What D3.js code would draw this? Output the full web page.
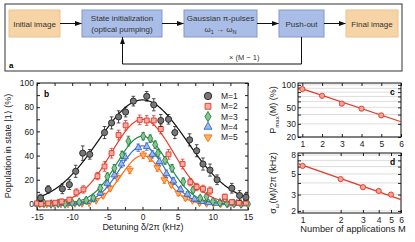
<!DOCTYPE html>
<html>
<head>
<meta charset="utf-8">
<script src="https://cdn.jsdelivr.net/npm/d3@7"></script>
<style>
  body { margin: 0; background: #fff; }
  svg { display: block; font-family: "Liberation Sans", Arial, sans-serif; }
  .tick text { font-size: 8.5px; fill: #222; }
  .domain { display: none; }
  .tick line { stroke: #222; }
</style>
</head>
<body>
<svg id="chart" width="415" height="242"></svg>
<script>
// ---- panel a: flow chart boxes ----
// each line is a list of [text, isSubscript] pieces
const boxLabels = [
    [[["Initial image", 0]]],
    [[["State initialization", 0]], [["(optical pumping)", 0]]],
    [[["Gaussian \u03c0-pulses", 0]], [["\u03c9", 0], ["1", 1], [" \u2192 \u03c9", 0], ["N", 1]]],
    [[["Push-out", 0]]],
    [[["Final image", 0]]]];
const boxKinds = ["img", "op", "op", "op", "img"];
const repeatLabel = "\u00d7 (M \u2212 1)";

// ---- panel b: population vs detuning ----
const seriesNames = ["M=1", "M=2", "M=3", "M=4", "M=5"];
const detM1 = [-14.5, -13.4, -11.4, -10.4, -9.5, -8.5, -7.5, -5.4, -4.4, -3.4, -2.4, -1.3, 0.6, 1.6, 2.6, 3.7, 4.6, 6.7, 7.7, 8.6, 9.6, 10.6, 12.7, 13.8, 14.7];
const popM1 = [5, 12, 12.5, 16, 27, 42, 41, 59, 67, 72, 76, 85, 89, 82, 69, 70, 59, 53, 44, 33, 28, 20, 13, 7, 5.5];
const errM1 = [3, 3, 4, 4, 5, 6, 4, 5, 5, 5, 4, 4, 4, 5, 5, 4, 5, 5, 5, 5, 5, 4, 4, 4, 3];
const detM2 = [-15, -14.4, -13.4, -12.4, -11.5, -10.4, -9.4, -8.4, -6.4, -5.4, -4.4, -3.4, -2.4, -0.4, 0.6, 1.6, 2.6, 3.7, 5.7, 6.8, 7.7, 8.6, 9.6, 11.7, 12.7, 13.7, 14.7];
const popM2 = [0.5, 0, 0.5, 1, 2, 3.5, 9.5, 12, 23, 31, 42, 57, 65, 69.5, 69, 69, 62, 41, 33, 18, 14, 12.5, 11, 6, 1.5, 1, 1];
const errM2 = [1, 1, 1, 1, 2, 2, 3, 3, 3, 4, 4, 4, 4, 4, 4, 4, 4, 4, 4, 3, 3, 3, 3, 2, 2, 1, 1];
const detM3 = [-15, -14, -13, -12, -11, -10, -9, -8, -7, -6, -5, -4, -2.9, -2, 0.1, 1.1, 1.8, 2.2, 3.2, 4.2, 5.8, 7.2, 8.2, 9.1, 10, 11, 12, 13, 14, 15];
const popM3 = [0, 0.5, 0, 0.5, 0, 1, 1.5, 3, 5, 13, 22.6, 29.5, 40.5, 52, 56, 54, 49, 42, 36, 29.5, 18.4, 11.6, 4.7, 6, 2, 1, 0.5, 0.5, 0, 0];
const errM3 = [1, 1, 1, 1, 1, 1, 1, 2, 2, 3, 3, 3, 3, 4, 3, 3, 3, 3, 3, 3, 3, 2, 2, 2, 1, 1, 1, 1, 1, 1];
const detM4 = [-15, -14, -13, -12, -11, -10, -9, -8, -7, -6, -5, -4, -3, -2.5, -0.6, 0.6, 1.4, 2.4, 3.4, 4.4, 5.4, 6.4, 7.4, 8.4, 9.4, 10.4, 11.4, 12.4, 13.4, 14.4];
const popM4 = [0, 0.5, 0, 0, 0.5, 0.5, 1, 2, 4, 9, 17, 24, 33, 39, 46.5, 47.4, 41, 35, 25, 19, 12, 8, 4, 2, 1, 0.5, 1, 0, 0.5, 0];
const errM4 = [1, 1, 1, 1, 1, 1, 1, 1, 2, 2, 3, 3, 3, 3, 3, 3, 3, 3, 3, 3, 2, 2, 2, 1, 1, 1, 1, 1, 1, 1];
const detM5 = [-14.6, -13.6, -12.6, -11.6, -10.6, -9.6, -8.6, -7.6, -6.6, -5.6, -4.6, -3.6, -1.8, 0.1, 1.1, 2.1, 3.1, 4.1, 5.1, 6.1, 7.1, 8.1, 9.1, 10.1, 11.1, 12.1, 13.1, 14.1];
const popM5 = [0, 0, 0.5, 0, 0, 0.5, 0.5, 1, 3, 7, 13, 22, 28, 40.5, 38, 30, 20, 16, 9, 5, 3, 1, 0.5, 0.5, 0, 0, 0.5, 0];
const errM5 = [1, 1, 1, 1, 1, 1, 1, 1, 1, 2, 2, 3, 3, 3, 3, 3, 3, 2, 2, 2, 1, 1, 1, 1, 1, 1, 1, 1];
// Gaussian fit parameters of the curves in b
const fitAmp = [86, 70, 56, 48, 40];
const fitSigma = [6.3, 4.4, 3.6, 3.2, 2.95];

// ---- panels c and d ----
const appM = [1, 2, 3, 4, 5];
const pMax = [88, 71.4, 56, 48, 39];
const sigmaW = [6.1, 4.4, 3.6, 3.28, 3.0];
const pFitM = [0.78, 6];
const pFitV = [92.5, 32];
const sFitM = [0.92, 6];
const sFitV = [6.45, 2.65];

const colors = ["#222", "#e0382a", "#23803d", "#3467c9", "#ff6a10"];
const lineColors = ["#111", "#e5402a", "#248a42", "#3a6fd6", "#ff6a14"];
const fills = ["#777", "#f5aaa2", "#86c493", "#9fb8ec", "#ffb060"];
const symbols = [d3.symbolCircle, d3.symbolSquare, d3.symbolDiamond, d3.symbolTriangle, d3.symbolTriangle];
const symSizes = [30, 24, 22, 20, 20];

const svg = d3.select("#chart");

// ================= panel a =================
const boxX = [9, 82, 184, 279, 346];
const boxW = [51, 80, 73, 45, 52];
const boxTop = 10, boxH = 27;
svg.append("rect").attr("x", 5).attr("y", 4).attr("width", 397).attr("height", 67)
   .attr("fill", "none").attr("stroke", "#333").attr("stroke-width", 1);

const defs = svg.append("defs");
defs.append("marker").attr("id", "arrow").attr("viewBox", "0 0 10 10")
    .attr("refX", 10).attr("refY", 5).attr("markerWidth", 7).attr("markerHeight", 7)
    .attr("markerUnits", "userSpaceOnUse").attr("orient", "auto")
    .append("path").attr("d", "M0,1.5 L10,5 L0,8.5 Z").attr("fill", "#111");

boxLabels.forEach((lines, i) => {
    svg.append("rect").attr("x", boxX[i]).attr("y", boxTop).attr("width", boxW[i]).attr("height", boxH)
        .attr("fill", boxKinds[i] == "img" ? "#f6d4a6" : "#a9bde6")
        .attr("stroke", boxKinds[i] == "img" ? "#ecc48e" : "#8299c9").attr("stroke-width", 1);
    lines.forEach((l, j) => {
        let t = svg.append("text").attr("x", boxX[i] + boxW[i] / 2).attr("text-anchor", "middle")
            .attr("y", boxTop + boxH / 2 + 3 + (j - (lines.length - 1) / 2) * 11)
            .attr("font-size", 8).attr("fill", "#333");
        l.forEach(p => {
            let sp = t.append("tspan").text(p[0]);
            if (p[1]) sp.attr("font-size", 5.5).attr("dy", 2);
            else if (t.selectAll("tspan").size() > 1) sp.attr("dy", -2);
        });
    });
    if (i < boxLabels.length - 1) {
        svg.append("line").attr("x1", boxX[i] + boxW[i]).attr("x2", boxX[i + 1])
           .attr("y1", boxTop + boxH / 2).attr("y2", boxTop + boxH / 2)
           .attr("stroke", "#111").attr("stroke-width", 1).attr("marker-end", "url(#arrow)");
    }
});
svg.append("path")
   .attr("d", `M${boxX[3] + 22.5},${boxTop + boxH} V64 H${boxX[1] + 40.5} V${boxTop + boxH}`)
   .attr("fill", "none").attr("stroke", "#111").attr("stroke-width", 1).attr("marker-end", "url(#arrow)");
svg.append("text").attr("x", 229).attr("y", 60).attr("font-size", 7.5).attr("fill", "#333").text(repeatLabel);
svg.append("text").attr("x", 9).attr("y", 68).attr("font-size", 8).attr("font-weight", "bold").text("a");

// ================= panel b =================
const bx = d3.scaleLinear().domain([-15, 15]).range([37, 248]);
const by = d3.scaleLinear().domain([-5, 100]).range([210, 83]);
const b = svg.append("g");

b.append("g").attr("transform", "translate(0,210)")
 .call(d3.axisBottom(bx).tickValues(d3.range(-15, 15.1, 2.5)).tickSizeInner(-3).tickSizeOuter(0).tickPadding(4)
       .tickFormat(d => d % 5 == 0 ? d : ""));
b.append("g").attr("transform", "translate(0,83)")
 .call(d3.axisTop(bx).tickValues(d3.range(-15, 15.1, 2.5)).tickSizeInner(-3).tickSizeOuter(0).tickFormat(""));
b.append("g").attr("transform", "translate(37,0)")
 .call(d3.axisLeft(by).tickValues(d3.range(0, 101, 10)).tickSizeInner(-3).tickSizeOuter(0).tickPadding(3)
       .tickFormat(d => d % 20 == 0 ? d : ""));
b.append("g").attr("transform", "translate(248,0)")
 .call(d3.axisRight(by).tickValues(d3.range(0, 101, 10)).tickSizeInner(-3).tickSizeOuter(0).tickFormat(""));
b.append("rect").attr("x", 37).attr("y", 83).attr("width", 211).attr("height", 127)
 .attr("fill", "none").attr("stroke", "#111").attr("stroke-width", 1);

b.append("text").attr("transform", "translate(11,146) rotate(-90)").attr("text-anchor", "middle")
 .attr("font-size", 9).attr("fill", "#222").text("Population in state |1\u27e9 (%)");
b.append("text").attr("x", 143).attr("y", 230).attr("text-anchor", "middle").attr("font-size", 9).attr("fill", "#222")
 .text("Detuning \u03b4/2\u03c0 (kHz)");
b.append("text").attr("x", 44).attr("y", 97).attr("font-size", 8.5).attr("font-weight", "bold").text("b");

const dets = [detM1, detM2, detM3, detM4, detM5];
const pops = [popM1, popM2, popM3, popM4, popM5];
const errs = [errM1, errM2, errM3, errM4, errM5];
const curveX = d3.range(-15, 15.01, 0.1);
const line = d3.line().x(d => bx(d[0])).y(d => by(d[1]));

for (let s = 4; s >= 0; s--) {
    let pts = dets[s].map((d, i) => [d, pops[s][i], errs[s][i]]);
    let g = b.append("g");
    g.selectAll("line.err").data(pts).enter().append("line")
     .attr("x1", d => bx(d[0])).attr("x2", d => bx(d[0]))
     .attr("y1", d => by(d[1] - d[2])).attr("y2", d => by(d[1] + d[2]))
     .attr("stroke", colors[s]).attr("stroke-width", 0.8);
    [-1, 1].forEach(sign => {
        g.selectAll("line.cap" + sign).data(pts).enter().append("line")
         .attr("x1", d => bx(d[0]) - 1.8).attr("x2", d => bx(d[0]) + 1.8)
         .attr("y1", d => by(d[1] + sign * d[2])).attr("y2", d => by(d[1] + sign * d[2]))
         .attr("stroke", colors[s]).attr("stroke-width", 0.8);
    });
    g.append("path").datum(curveX.map(x => [x, fitAmp[s] * Math.exp(-x * x / (2 * fitSigma[s] * fitSigma[s]))]))
     .attr("d", line).attr("fill", "none").attr("stroke", lineColors[s]).attr("stroke-width", 1.2);
    g.selectAll("path.pt").data(pts).enter().append("path")
     .attr("d", d3.symbol().type(symbols[s]).size(symSizes[s]))
     .attr("transform", d => `translate(${bx(d[0])},${by(d[1])})${s == 4 ? " rotate(180)" : ""}`)
     .attr("fill", fills[s]).attr("stroke", colors[s]).attr("stroke-width", 0.9);
}

// legend
seriesNames.forEach((n, i) => {
    let ly = 96 + i * 10.3;
    b.append("path").attr("d", d3.symbol().type(symbols[i]).size(symSizes[i] * 1.4)())
     .attr("transform", `translate(208,${ly})${i == 4 ? " rotate(180)" : ""}`)
     .attr("fill", fills[i]).attr("stroke", colors[i]).attr("stroke-width", 0.9);
    b.append("text").attr("x", 221).attr("y", ly + 3).attr("font-size", 8.5).attr("fill", "#222").text(n);
});

// ================= panels c, d =================
function smallPanel(xs, ys, top, bottom, yTicks, yLabels, xTicks, vals, fitM, fitV, letter, labelParts) {
    const g = svg.append("g");
    g.selectAll("line.grid").data(yTicks).enter().append("line")
     .attr("x1", 298).attr("x2", 401).attr("y1", d => ys(d)).attr("y2", d => ys(d))
     .attr("stroke", "#d4d4d4").attr("stroke-width", 0.8);
    g.append("g").attr("transform", `translate(0,${bottom})`)
     .call(d3.axisBottom(xs).tickValues(xTicks).tickSizeInner(-3).tickSizeOuter(0).tickPadding(4).tickFormat(d3.format("d")));
    g.append("g").attr("transform", `translate(0,${top})`)
     .call(d3.axisTop(xs).tickValues(xTicks).tickSizeInner(-3).tickSizeOuter(0).tickFormat(""));
    g.append("g").attr("transform", "translate(298,0)")
     .call(d3.axisLeft(ys).tickValues(yTicks).tickSizeInner(-3).tickSizeOuter(0).tickPadding(2)
           .tickFormat(d => yLabels.includes(d) ? d : ""));
    g.append("g").attr("transform", "translate(401,0)")
     .call(d3.axisRight(ys).tickValues(yTicks).tickSizeInner(-3).tickSizeOuter(0).tickFormat(""));
    g.append("rect").attr("x", 298).attr("y", top).attr("width", 103).attr("height", bottom - top)
     .attr("fill", "none").attr("stroke", "#111").attr("stroke-width", 1);
    g.append("path").datum(fitM.map((m, i) => [m, fitV[i]]))
     .attr("d", d3.line().x(d => xs(d[0])).y(d => ys(d[1])))
     .attr("stroke", "#e23a24").attr("stroke-width", 1.2).attr("fill", "none");
    g.selectAll("circle").data(appM.map((m, i) => [m, vals[i]])).enter().append("circle")
     .attr("cx", d => xs(d[0])).attr("cy", d => ys(d[1])).attr("r", 2.6)
     .attr("fill", "#f2a497").attr("stroke", "#e0382a").attr("stroke-width", 0.9);
    g.append("text").attr("x", 390).attr("y", top + 12).attr("font-size", 8.5).attr("font-weight", "bold").text(letter);
    let t = g.append("text").attr("transform", `translate(276,${(top + bottom) / 2}) rotate(-90)`)
     .attr("text-anchor", "middle").attr("font-size", 9).attr("fill", "#222");
    labelParts.forEach(p => {
        let sp = t.append("tspan").text(p[0]);
        if (p[1]) sp.attr("font-size", 6).attr("baseline-shift", "sub");
    });
    return g;
}

const cx = d3.scaleLinear().domain([0.78, 6]).range([298, 401]);
const cy = d3.scaleLog().domain([20, 106]).range([137, 83]);
smallPanel(cx, cy, 83, 137, [20, 30, 40, 50, 60, 70, 80, 90, 100], [20, 30, 50, 100], [1, 2, 3, 4, 5, 6],
           pMax, pFitM, pFitV, "c", [["P", 0], ["max", 1], ["(M) (%)", 0]]);

const dx = d3.scaleLog().domain([0.92, 6]).range([298, 401]);
const dy = d3.scaleLog().domain([1.9, 8.4]).range([213, 153]);
smallPanel(dx, dy, 153, 213, [2, 3, 4, 5, 6, 7, 8], [2, 3, 5, 8], [1, 2, 3, 4, 5, 6],
           sigmaW, sFitM, sFitV, "d", [["\u03c3", 0], ["\u03c9", 1], ["(M)/2\u03c0 (kHz)", 0]]);
svg.append("text").attr("x", 353).attr("y", 232).attr("text-anchor", "middle").attr("font-size", 9.3).attr("fill", "#222")
   .text("Number of applications M");
</script>
</body>
</html>
